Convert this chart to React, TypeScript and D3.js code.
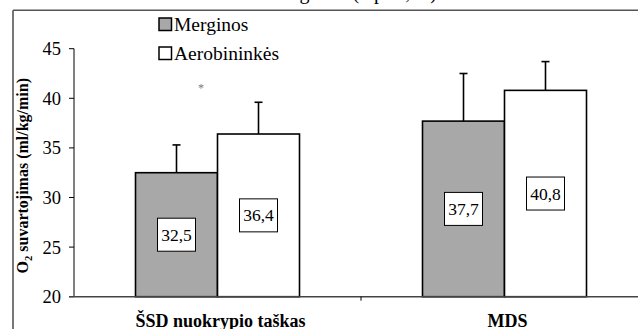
import React from "react";
import * as d3 from "d3";

// Oxygen uptake (ml/kg/min) at two test points, two groups
const categories = ["ŠSD nuokrypio taškas", "MDS"];
const seriesNames = ["Merginos", "Aerobininkės"];
const merginosMean = [32.5, 37.7];
const aerobMean = [36.4, 40.8];
const merginosUpper = [35.3, 42.5];
const aerobUpper = [39.6, 43.7];
const yTicks = [20, 25, 30, 35, 40, 45];
const significance = ["*", ""];
const titleText = "Aerobinis rodiklis ir augimas (* p<0,05)";

const W = 638;
const H = 329;
const SERIF = '"Liberation Serif", serif';

export default function App() {
  const plotLeft = 74;
  const plotRight = 648;
  const y = d3.scaleLinear().domain([20, 45]).range([296.7, 48.7]);
  const x = d3.scaleBand<string>().domain(categories).range([plotLeft, plotRight]).padding(0);
  const xs = d3
    .scaleBand<string>()
    .domain(seriesNames)
    .range([0, x.bandwidth()])
    .paddingInner(0)
    .paddingOuter(0.75);

  const seriesVals = [merginosMean, aerobMean];
  const seriesUpper = [merginosUpper, aerobUpper];
  const fills = ["#a8a8a8", "#ffffff"];
  const baseY = y(20);

  return (
    <svg
      width={W}
      height={H}
      style={{ position: "absolute", left: 0, top: 0, background: "#fff", fontFamily: SERIF }}
    >
      {/* clipped title above the chart frame */}
      <text x={437} y={-0.9} fontSize={20} textAnchor="end" fill="#000">
        {titleText}
      </text>
      {/* chart frame */}
      <line x1={13} x2={W} y1={10.2} y2={10.2} stroke="#555" strokeWidth={1.6} />
      <line x1={13} x2={13} y1={10.2} y2={H} stroke="#555" strokeWidth={1.6} />

      {/* y axis */}
      <line x1={plotLeft} x2={plotLeft} y1={y(45)} y2={baseY} stroke="#000" strokeWidth={1} />
      {yTicks.map((t) => (
        <g key={t}>
          <line x1={plotLeft - 5} x2={plotLeft} y1={y(t)} y2={y(t)} stroke="#000" strokeWidth={1} />
          <text x={61} y={y(t)} dy="0.35em" fontSize={18.5} textAnchor="end">
            {t}
          </text>
        </g>
      ))}
      {/* y axis title */}
      <text
        transform={`translate(28, ${(y(20) + y(45)) / 2 + 3}) rotate(-90)`}
        textAnchor="middle"
        fontSize={16}
        fontWeight="bold"
      >
        O<tspan fontSize={10.5} dy={4}>2</tspan>
        <tspan dy={-4}> suvartojimas (ml/kg/min)</tspan>
      </text>

      {/* bars */}
      {categories.map((c, ci) => (
        <g key={c}>
          {seriesNames.map((s, si) => {
            const v = seriesVals[si][ci];
            const bx = (x(c) as number) + (xs(s) as number);
            const bw = xs.bandwidth();
            const cx = bx + bw / 2;
            const up = seriesUpper[si][ci];
            const ly = y((20 + v) / 2);
            const label = v.toFixed(1).replace(".", ",");
            return (
              <g key={s}>
                <line x1={cx} x2={cx} y1={y(v)} y2={y(up)} stroke="#000" strokeWidth={1.6} />
                <line x1={cx - 4} x2={cx + 4} y1={y(up)} y2={y(up)} stroke="#000" strokeWidth={1.6} />
                <rect
                  x={bx}
                  y={y(v)}
                  width={bw}
                  height={baseY - y(v)}
                  fill={fills[si]}
                  stroke="#000"
                  strokeWidth={1.6}
                />
                <rect x={cx - 19} y={ly - 16.5} width={38} height={33} fill="#fff" stroke="#000" strokeWidth={1} />
                <text x={cx} y={ly} dy="0.35em" fontSize={17.5} textAnchor="middle">
                  {label}
                </text>
              </g>
            );
          })}
          {significance[ci] && (
            <text
              x={(x(c) as number) + x.bandwidth() / 2 - 16.5}
              y={y(40.6)}
              fontSize={12}
              textAnchor="middle"
              fill="#777"
            >
              {significance[ci]}
            </text>
          )}
          <text
            x={(x(c) as number) + x.bandwidth() / 2 + 3}
            y={327}
            fontSize={18}
            fontWeight="bold"
            textAnchor="middle"
          >
            {c}
          </text>
        </g>
      ))}

      {/* x axis */}
      <line x1={plotLeft - 5} x2={W} y1={baseY} y2={baseY} stroke="#444" strokeWidth={1.4} />
      {categories.slice(1).map((c) => (
        <line key={c} x1={x(c) as number} x2={x(c) as number} y1={baseY} y2={baseY + 4} stroke="#000" strokeWidth={1} />
      ))}

      {/* legend */}
      {seriesNames.map((s, i) => (
        <g key={s} transform={`translate(159, ${18 + i * 29})`}>
          <rect x={0} y={0} width={12.5} height={12.5} fill={fills[i]} stroke="#000" strokeWidth={1.5} />
          <text x={15} y={13} fontSize={19.5}>
            {s}
          </text>
        </g>
      ))}
    </svg>
  );
}
